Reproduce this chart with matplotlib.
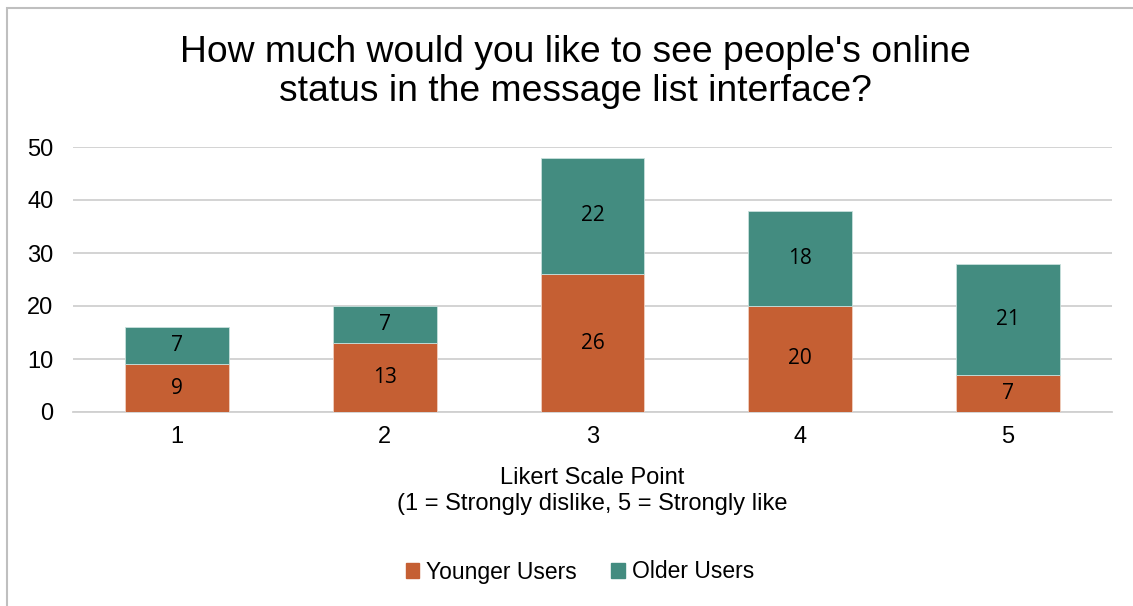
import matplotlib.pyplot as plt
from matplotlib.patches import Rectangle, Patch
import numpy as np

# data
categories = ['1', '2', '3', '4', '5']
younger = [9, 13, 26, 20, 7]
older = [7, 7, 22, 18, 21]
yticks = [0, 10, 20, 30, 40, 50]

COLORS = {"young": "#C55F33", "old": "#438C80", "grid": "#D0D0D0", "frame": "#BFBFBF"}

plt.rcParams['font.family'] = ['Liberation Sans', 'DejaVu Sans']

fig = plt.figure(figsize=(11.33, 6.06), dpi=100)
fig.patch.set_facecolor('white')

# outer chart frame (top + left visible)
fig.add_artist(Rectangle((7 / 1133, -0.05), 1.1, 1 - 8 / 606 + 0.05, transform=fig.transFigure,
                         fill=False, edgecolor=COLORS['frame'], linewidth=1.5))

ax = fig.add_axes([73 / 1133, 1 - 412 / 606, (1112 - 73) / 1133, (412 - 147) / 606])
x = np.arange(len(categories))
b1 = ax.bar(x, younger, width=0.5, color=COLORS['young'], edgecolor='#F0D0C0', linewidth=0.6, zorder=3)
b2 = ax.bar(x, older, width=0.5, bottom=younger, color=COLORS['old'], edgecolor='#C8E0DC', linewidth=0.6, zorder=3)

for bars, vals in [(b1, younger), (b2, older)]:
    for rect, v in zip(bars, vals):
        ax.text(rect.get_x() + rect.get_width() / 2, rect.get_y() + rect.get_height() / 2, str(v),
                ha='center', va='center', fontsize=15, color='black',
                family=['Open Sans', 'DejaVu Sans'], zorder=4)

ax.set_xlim(-0.5, len(categories) - 0.5)
ax.set_ylim(0, 50)
ax.set_yticks(yticks)
ax.set_yticklabels([str(t) for t in yticks], fontsize=17)
ax.set_xticks(x)
ax.set_xticklabels(categories, fontsize=17)
ax.tick_params(axis='y', length=0, pad=14)
ax.tick_params(axis='x', length=0, pad=10)
ax.yaxis.grid(True, color=COLORS['grid'], linewidth=1.3, zorder=0)
for s in ['top', 'right', 'left']:
    ax.spines[s].set_visible(False)
ax.spines['bottom'].set_color(COLORS['grid'])
ax.spines['bottom'].set_linewidth(1.3)

ax.set_xlabel('Likert Scale Point\n(1 = Strongly dislike, 5 = Strongly like', fontsize=17,
              labelpad=14, linespacing=1.2)

fig.text(575 / 1133, 1 - 35 / 606,
         "How much would you like to see people's online\nstatus in the message list interface?",
         ha='center', va='top', fontsize=26.8, linespacing=1.15)

handles = [Patch(color=COLORS['young'], label='Younger Users'),
           Patch(color=COLORS['old'], label='Older Users')]
fig.legend(handles=handles, loc='center', bbox_to_anchor=(580 / 1133, 1 - 572 / 606), ncol=2,
           frameon=False, fontsize=16.5, handlelength=0.6, handleheight=0.6, handletextpad=0.3,
           columnspacing=1.5)

plt.savefig('out.png', dpi=100, facecolor='white')
plt.close()
